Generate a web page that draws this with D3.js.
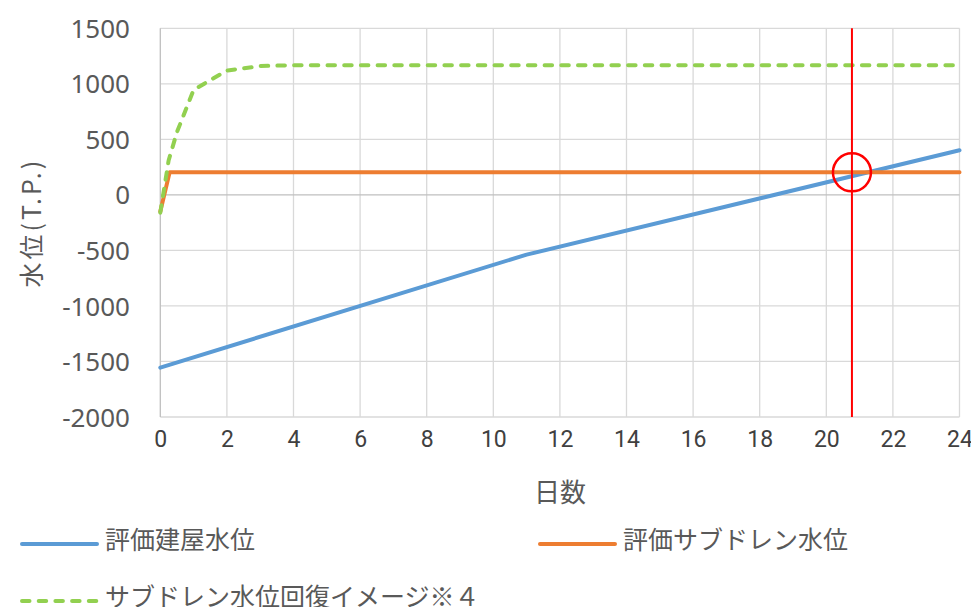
<!DOCTYPE html>
<html>
<head>
<meta charset="utf-8">
<script src="https://cdn.jsdelivr.net/npm/d3@7/dist/d3.min.js"></script>
<style>
  html, body { margin: 0; padding: 0; background: #fff; }
  svg { display: block; }
  .ytick text { font-family: "Noto Sans", "Noto Sans CJK JP", sans-serif; font-size: 26px; fill: #595959; }
  .xtick text { font-family: Roboto, "DejaVu Sans Condensed", sans-serif; font-size: 23px; fill: #404040; }
  .jp { font-family: "Noto Sans CJK JP", sans-serif; fill: #595959; }
</style>
</head>
<body>
<svg id="chart" width="971" height="607"></svg>
<script>
// Days on the horizontal axis, water level (T.P.) on the vertical axis
const xTicks = [0, 2, 4, 6, 8, 10, 12, 14, 16, 18, 20, 22, 24];
const yTicks = [1500, 1000, 500, 0, -500, -1000, -1500, -2000];

// 評価建屋水位
const buildingDays   = [0, 11, 24];
const buildingLevels = [-1555, -538, 402];

// 評価サブドレン水位
const subdrainDays   = [0, 0.28, 24];
const subdrainLevels = [-150, 203, 203];

// サブドレン水位回復イメージ
const recoveryDays   = [0, 0.25, 0.5, 1, 2, 3, 4, 24];
const recoveryLevels = [-160, 310, 565, 945, 1120, 1160, 1168, 1168];

// Marked crossing point
const markerDay = 20.77;
const markerLevel = 203;

const seriesNames = ["評価建屋水位", "評価サブドレン水位", "サブドレン水位回復イメージ※４"];
const xTitle = "日数";
const yTitle = "水位(T.P.)";

const svg = d3.select("#chart");
const x = d3.scaleLinear().domain([0, 24]).range([160.3, 959.5]);
const y = d3.scaleLinear().domain([-2000, 1500]).range([417, 28.3]);

const gridColor = "#d9d9d9";

// Gridlines
svg.append("g").selectAll("line.v").data(xTicks.filter(d => d !== 0)).join("line")
  .attr("x1", d => x(d)).attr("x2", d => x(d))
  .attr("y1", y(1500)).attr("y2", y(-2000))
  .attr("stroke", gridColor).attr("stroke-width", 1.3);
svg.append("g").selectAll("line.h").data(yTicks.filter(d => d !== 0)).join("line")
  .attr("x1", x(0)).attr("x2", x(24))
  .attr("y1", d => y(d)).attr("y2", d => y(d))
  .attr("stroke", gridColor).attr("stroke-width", 1.3);

// Zero line and left axis line
svg.append("line").attr("x1", x(0)).attr("x2", x(24)).attr("y1", y(0)).attr("y2", y(0))
  .attr("stroke", "#bfbfbf").attr("stroke-width", 1.3);
svg.append("line").attr("x1", x(0)).attr("x2", x(0)).attr("y1", y(1500)).attr("y2", y(-2000))
  .attr("stroke", "#bfbfbf").attr("stroke-width", 1.3);

// Y axis labels (plain hyphen for negatives)
const yAxis = d3.axisLeft(y).tickValues(yTicks).tickSize(0).tickPadding(0).tickFormat(d => String(d));
const gy = svg.append("g").attr("class", "ytick").attr("transform", "translate(130,0)").call(yAxis);
gy.select(".domain").remove();
gy.selectAll("text").attr("dy", "0.35em");

// X axis labels
const xAxis = d3.axisBottom(x).tickValues(xTicks).tickSize(0).tickPadding(0);
const gx = svg.append("g").attr("class", "xtick").attr("transform", "translate(0,430)").call(xAxis);
gx.select(".domain").remove();
gx.selectAll("text").attr("dy", "0.75em");

// Axis titles
svg.append("text").attr("class", "jp")
  .attr("transform", `translate(41,${(y(1500) + y(-2000)) / 2}) rotate(-90)`)
  .attr("text-anchor", "middle").attr("font-size", 25).attr("letter-spacing", 3).text(yTitle);
svg.append("text").attr("class", "jp")
  .attr("x", (x(0) + x(24)) / 2).attr("y", 502)
  .attr("text-anchor", "middle").attr("font-size", 26).text(xTitle);

const line = d3.line().x(d => x(d[0])).y(d => y(d[1]));

// Series
svg.append("path").datum(d3.zip(buildingDays, buildingLevels))
  .attr("d", line).attr("fill", "none").attr("stroke", "#5b9bd5")
  .attr("stroke-width", 4).attr("stroke-linejoin", "round").attr("stroke-linecap", "round");
svg.append("path").datum(d3.zip(subdrainDays, subdrainLevels))
  .attr("d", line).attr("fill", "none").attr("stroke", "#ed7d31")
  .attr("stroke-width", 4).attr("stroke-linejoin", "round").attr("stroke-linecap", "round");
svg.append("path").datum(d3.zip(recoveryDays, recoveryLevels))
  .attr("d", line).attr("fill", "none").attr("stroke", "#92d050")
  .attr("stroke-width", 4).attr("stroke-dasharray", "7.5 9.2").attr("stroke-linecap", "round")
  .attr("stroke-linejoin", "round");

// Marker: vertical line and circle at the crossing
svg.append("line").attr("x1", x(markerDay)).attr("x2", x(markerDay))
  .attr("y1", y(1500)).attr("y2", y(-2000))
  .attr("stroke", "#ff0000").attr("stroke-width", 2);
svg.append("circle").attr("cx", x(markerDay)).attr("cy", y(markerLevel)).attr("r", 19)
  .attr("fill", "none").attr("stroke", "#ff0000").attr("stroke-width", 2.5);

// Legend
const legend = [
  { name: seriesNames[0], color: "#5b9bd5", dash: null, lx: 22, ly: 544 },
  { name: seriesNames[1], color: "#ed7d31", dash: null, lx: 540, ly: 544 },
  { name: seriesNames[2], color: "#92d050", dash: "7.5 9.2", lx: 22, ly: 601 }
];
const lg = svg.append("g").selectAll("g").data(legend).join("g");
lg.append("line")
  .attr("x1", d => d.lx).attr("x2", d => d.lx + 75)
  .attr("y1", d => d.ly).attr("y2", d => d.ly)
  .attr("stroke", d => d.color).attr("stroke-width", 4)
  .attr("stroke-linecap", "round")
  .attr("stroke-dasharray", d => d.dash);
lg.append("text").attr("class", "jp")
  .attr("x", d => d.lx + 83).attr("y", d => d.ly - 4)
  .attr("dy", "0.35em").attr("font-size", 25)
  .text(d => d.name);
</script>
</body>
</html>
